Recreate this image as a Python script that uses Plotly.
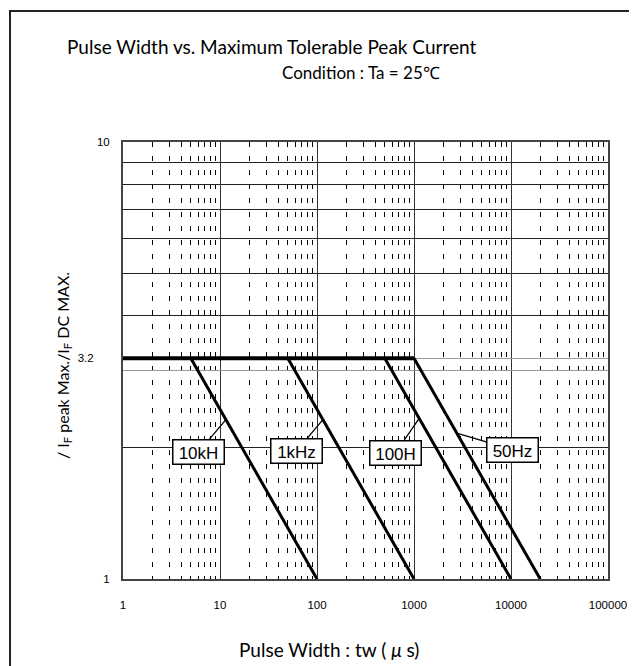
import math
import plotly.graph_objects as go

# ---- data ----
flat_width = [1, 1000]            # pulse width (us)
flat_ratio = [3.2, 3.2]           # IF peak / IF DC

series_names = ["10kHz", "1kHz", "100Hz", "50Hz"]
start_width = [5, 50, 500, 1000]
end_width = [100, 1000, 10000, 20000]
line_ratio = [3.2, 1]

label_text = ["10kH", "1kHz", "100H", "50Hz"]
label_width = [11.5, 115, 1130, 2760]
label_ax = [-27, -26, -24, 56]
label_ay = [32, 31, 35, 17]

x_tickvals = [1, 10, 100, 1000, 10000, 100000]
x_ticktext = ["1", "10", "100", "1000", "10000", "100000"]
y_tickvals = [1, 3, 3.2, 10]
y_ticktext = ["1", "", "3.2\u00a0\u00a0\u00a0\u00a0\u00a0", "10"]

x_minor = [m * 10 ** k for k in range(5) for m in range(2, 10)]
y_minor = [2, 4, 5, 6, 7, 8, 9]

# page offset of the plot frame in the screenshot
OX, OY = 7, 7
L, T, W, H = 122 - OX, 141 - OY, 485, 437

fig = go.Figure()

fig.add_trace(go.Scatter(x=flat_width, y=flat_ratio, mode="lines",
                         line=dict(color="black", width=4), showlegend=False,
                         hoverinfo="skip"))
for name, x0, x1 in zip(series_names, start_width, end_width):
    fig.add_trace(go.Scatter(x=[x0, x1], y=line_ratio, mode="lines", name=name,
                             line=dict(color="black", width=3), showlegend=False))


def ratio_on_line(x, x0, x1):
    lx, l0, l1 = math.log10(x), math.log10(x0), math.log10(x1)
    ly0, ly1 = math.log10(line_ratio[0]), math.log10(line_ratio[1])
    return 10 ** (ly0 + (ly1 - ly0) * (lx - l0) / (l1 - l0))


def px(x):
    return (x - 122) / W


def py(y):
    return (578 - y) / H


annotations = []
for txt, lx, ax, ay, x0, x1 in zip(label_text, label_width, label_ax, label_ay,
                                   start_width, end_width):
    annotations.append(dict(
        x=math.log10(lx), y=math.log10(ratio_on_line(lx, x0, x1)),
        xref="x", yref="y", text=txt, showarrow=True, arrowhead=0,
        arrowwidth=1.3, arrowcolor="black", ax=ax, ay=ay,
        bgcolor="white", bordercolor="black", borderwidth=1.5,
        width=48, height=21, valign="bottom", borderpad=1,
        font=dict(family="Liberation Sans", size=17, color="black")))

annotations += [
    dict(text="Pulse Width vs. Maximum Tolerable Peak Current", xref="paper", yref="paper",
         x=px(270), y=py(45), xanchor="center", yanchor="middle",
         showarrow=False, font=dict(family="Lato", size=19, color="black")),
    dict(text="Condition : Ta = 25℃", xref="paper", yref="paper",
         x=px(360), y=py(72), xanchor="center", yanchor="middle",
         showarrow=False, font=dict(family="Lato", size=17, color="black")),
    dict(text="Pulse Width : tw ( <i>μ</i> s)", xref="paper", yref="paper",
         x=px(328), y=py(648), xanchor="center", yanchor="middle",
         showarrow=False, font=dict(family="Lato", size=19, color="black")),
    dict(text="/ I<sub>F</sub> peak Max./I<sub>F</sub> DC MAX.", xref="paper", yref="paper",
         x=px(62), y=py(365), xanchor="center", yanchor="middle",
         textangle=-90, showarrow=False, font=dict(family="Lato", size=16, color="black")),
]

fig.update_layout(
    width=637, height=666,
    margin=dict(l=L, r=637 - L - W, t=T, b=666 - T - H),
    paper_bgcolor="white", plot_bgcolor="white",
    annotations=annotations,
    shapes=[dict(type="rect", xref="paper", yref="paper",
                 x0=px(9), x1=1.3, y0=-0.5, y1=py(10),
                 line=dict(color="#222", width=2), layer="above")],
    xaxis=dict(type="log", range=[0, 5], tickmode="array", tickvals=x_tickvals,
               ticktext=x_ticktext, showgrid=True, gridcolor="#333", gridwidth=1,
               showline=True, mirror=True, linecolor="#444", linewidth=2,
               ticks="", ticklabelstandoff=14, zeroline=False,
               tickfont=dict(family="Liberation Sans", size=11.5, color="black"),
               minor=dict(tickmode="array", tickvals=x_minor, showgrid=True,
                          gridcolor="black", gridwidth=1, griddash="5px,9px", ticks="")),
    yaxis=dict(type="log", range=[0, 1], tickmode="array", tickvals=y_tickvals,
               ticktext=y_ticktext, showgrid=True, gridcolor="#999", gridwidth=1,
               showline=True, mirror=True, linecolor="#444", linewidth=2,
               ticks="", ticklabelstandoff=9, zeroline=False,
               tickfont=dict(family="Liberation Sans", size=11.5, color="black"),
               minor=dict(tickmode="array", tickvals=y_minor, showgrid=True,
                          gridcolor="#222", gridwidth=1, ticks="")),
)

fig.write_html("out.html")
